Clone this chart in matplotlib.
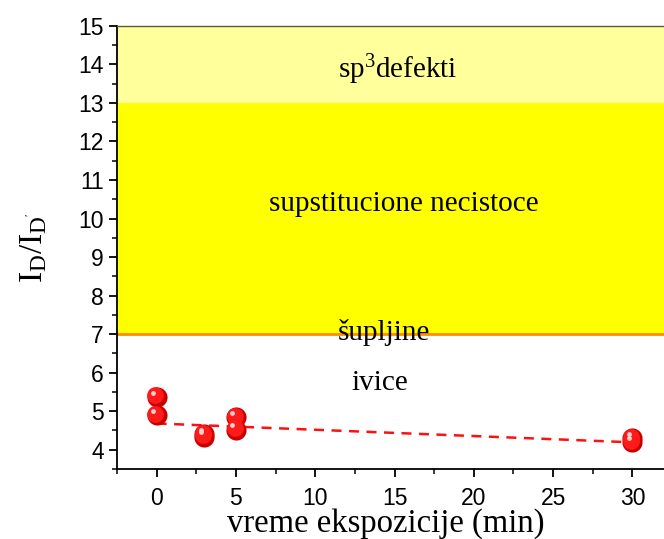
import numpy as np
import matplotlib
matplotlib.use("Agg")
import matplotlib.pyplot as plt
from matplotlib.transforms import offset_copy

plt.rcParams['mathtext.fontset'] = 'custom'
plt.rcParams['mathtext.rm'] = 'Liberation Serif'
plt.rcParams['mathtext.it'] = 'Liberation Serif'

# measured values
time_min = [0, 0, 3, 3, 5, 5, 30, 30]
ratio = [5.37, 4.89, 4.34, 4.40, 4.84, 4.52, 4.30, 4.19]

# fitted trend line
fit_x = [0, 30]
fit_y = [4.68, 4.19]

# shaded regions (y from, y to, colour)
bands = [(13, 15, '#ffff9c'), (7, 13, '#ffff00')]
region_labels = ["sp$^3$defekti", "supstitucione necistoce", "šupljine", "ivice"]
region_pos = [(15.2, 13.85), (15.6, 10.38), (14.3, 7.05), (14.1, 5.73)]

xticks = [0, 5, 10, 15, 20, 25, 30]
yticks = [4, 5, 6, 7, 8, 9, 10, 11, 12, 13, 14, 15]


def main():
    fig = plt.figure(figsize=(6.64, 5.39), dpi=100)
    ax = fig.add_axes([0.1762, 0.130, 0.836, 0.822])

    for lo, hi, col in bands:
        ax.axhspan(lo, hi, color=col, lw=0, zorder=0)
    ax.axhline(7, color='#ff8c00', lw=2, zorder=1)

    ax.plot(fit_x, fit_y, ls=(0, (4, 3)), color='#ff1010', lw=1.8, zorder=2)

    # shiny red balls
    ax.scatter(time_min, ratio, s=210, color='#c80000', lw=0, zorder=3)
    tr = offset_copy(ax.transData, fig=fig, x=-1, y=1, units='points')
    ax.scatter(time_min, ratio, s=145, color='#ff1a1a', lw=0, zorder=4, transform=tr)
    tr2 = offset_copy(ax.transData, fig=fig, x=-2.5, y=3, units='points')
    ax.scatter(time_min, ratio, s=12, color='#ffd0d0', lw=0, zorder=5, transform=tr2)

    for txt, (x, y) in zip(region_labels, region_pos):
        ax.text(x, y, txt, ha='center', va='center', fontsize=21,
                family='Liberation Serif', zorder=6)

    ax.set_xlim(-2.5, 32.5)
    ax.set_ylim(3.5, 15)
    ax.set_xticks(xticks)
    ax.set_yticks(yticks)
    ax.set_xticks(np.arange(-2.5, 33, 2.5), minor=True)
    ax.set_yticks(np.arange(3.5, 15.1, 0.5), minor=True)
    ax.tick_params(which='major', direction='out', length=6, width=1.3,
                   labelsize=16.5, top=False, right=False)
    ax.tick_params(axis='x', which='major', pad=7)
    ax.tick_params(which='minor', direction='out', length=3.5, width=1.1,
                   top=False, right=False)
    for lab in ax.get_xticklabels() + ax.get_yticklabels():
        lab.set_family('Liberation Sans')

    ax.spines['left'].set_linewidth(1.3)
    ax.spines['bottom'].set_linewidth(1.3)
    ax.spines['top'].set_color('#5a5a30')
    ax.spines['top'].set_linewidth(1)

    ax.set_xlabel("vreme ekspozicije (min)", family='Liberation Serif',
                  fontsize=23.5, labelpad=-1)
    ax.xaxis.label.set_x(0.485)
    ax.set_ylabel(r"$\mathrm{I_D/I_{D^{'}}}$", fontsize=24, labelpad=21)

    fig.savefig("out.png", dpi=100)


if __name__ == "__main__":
    main()
